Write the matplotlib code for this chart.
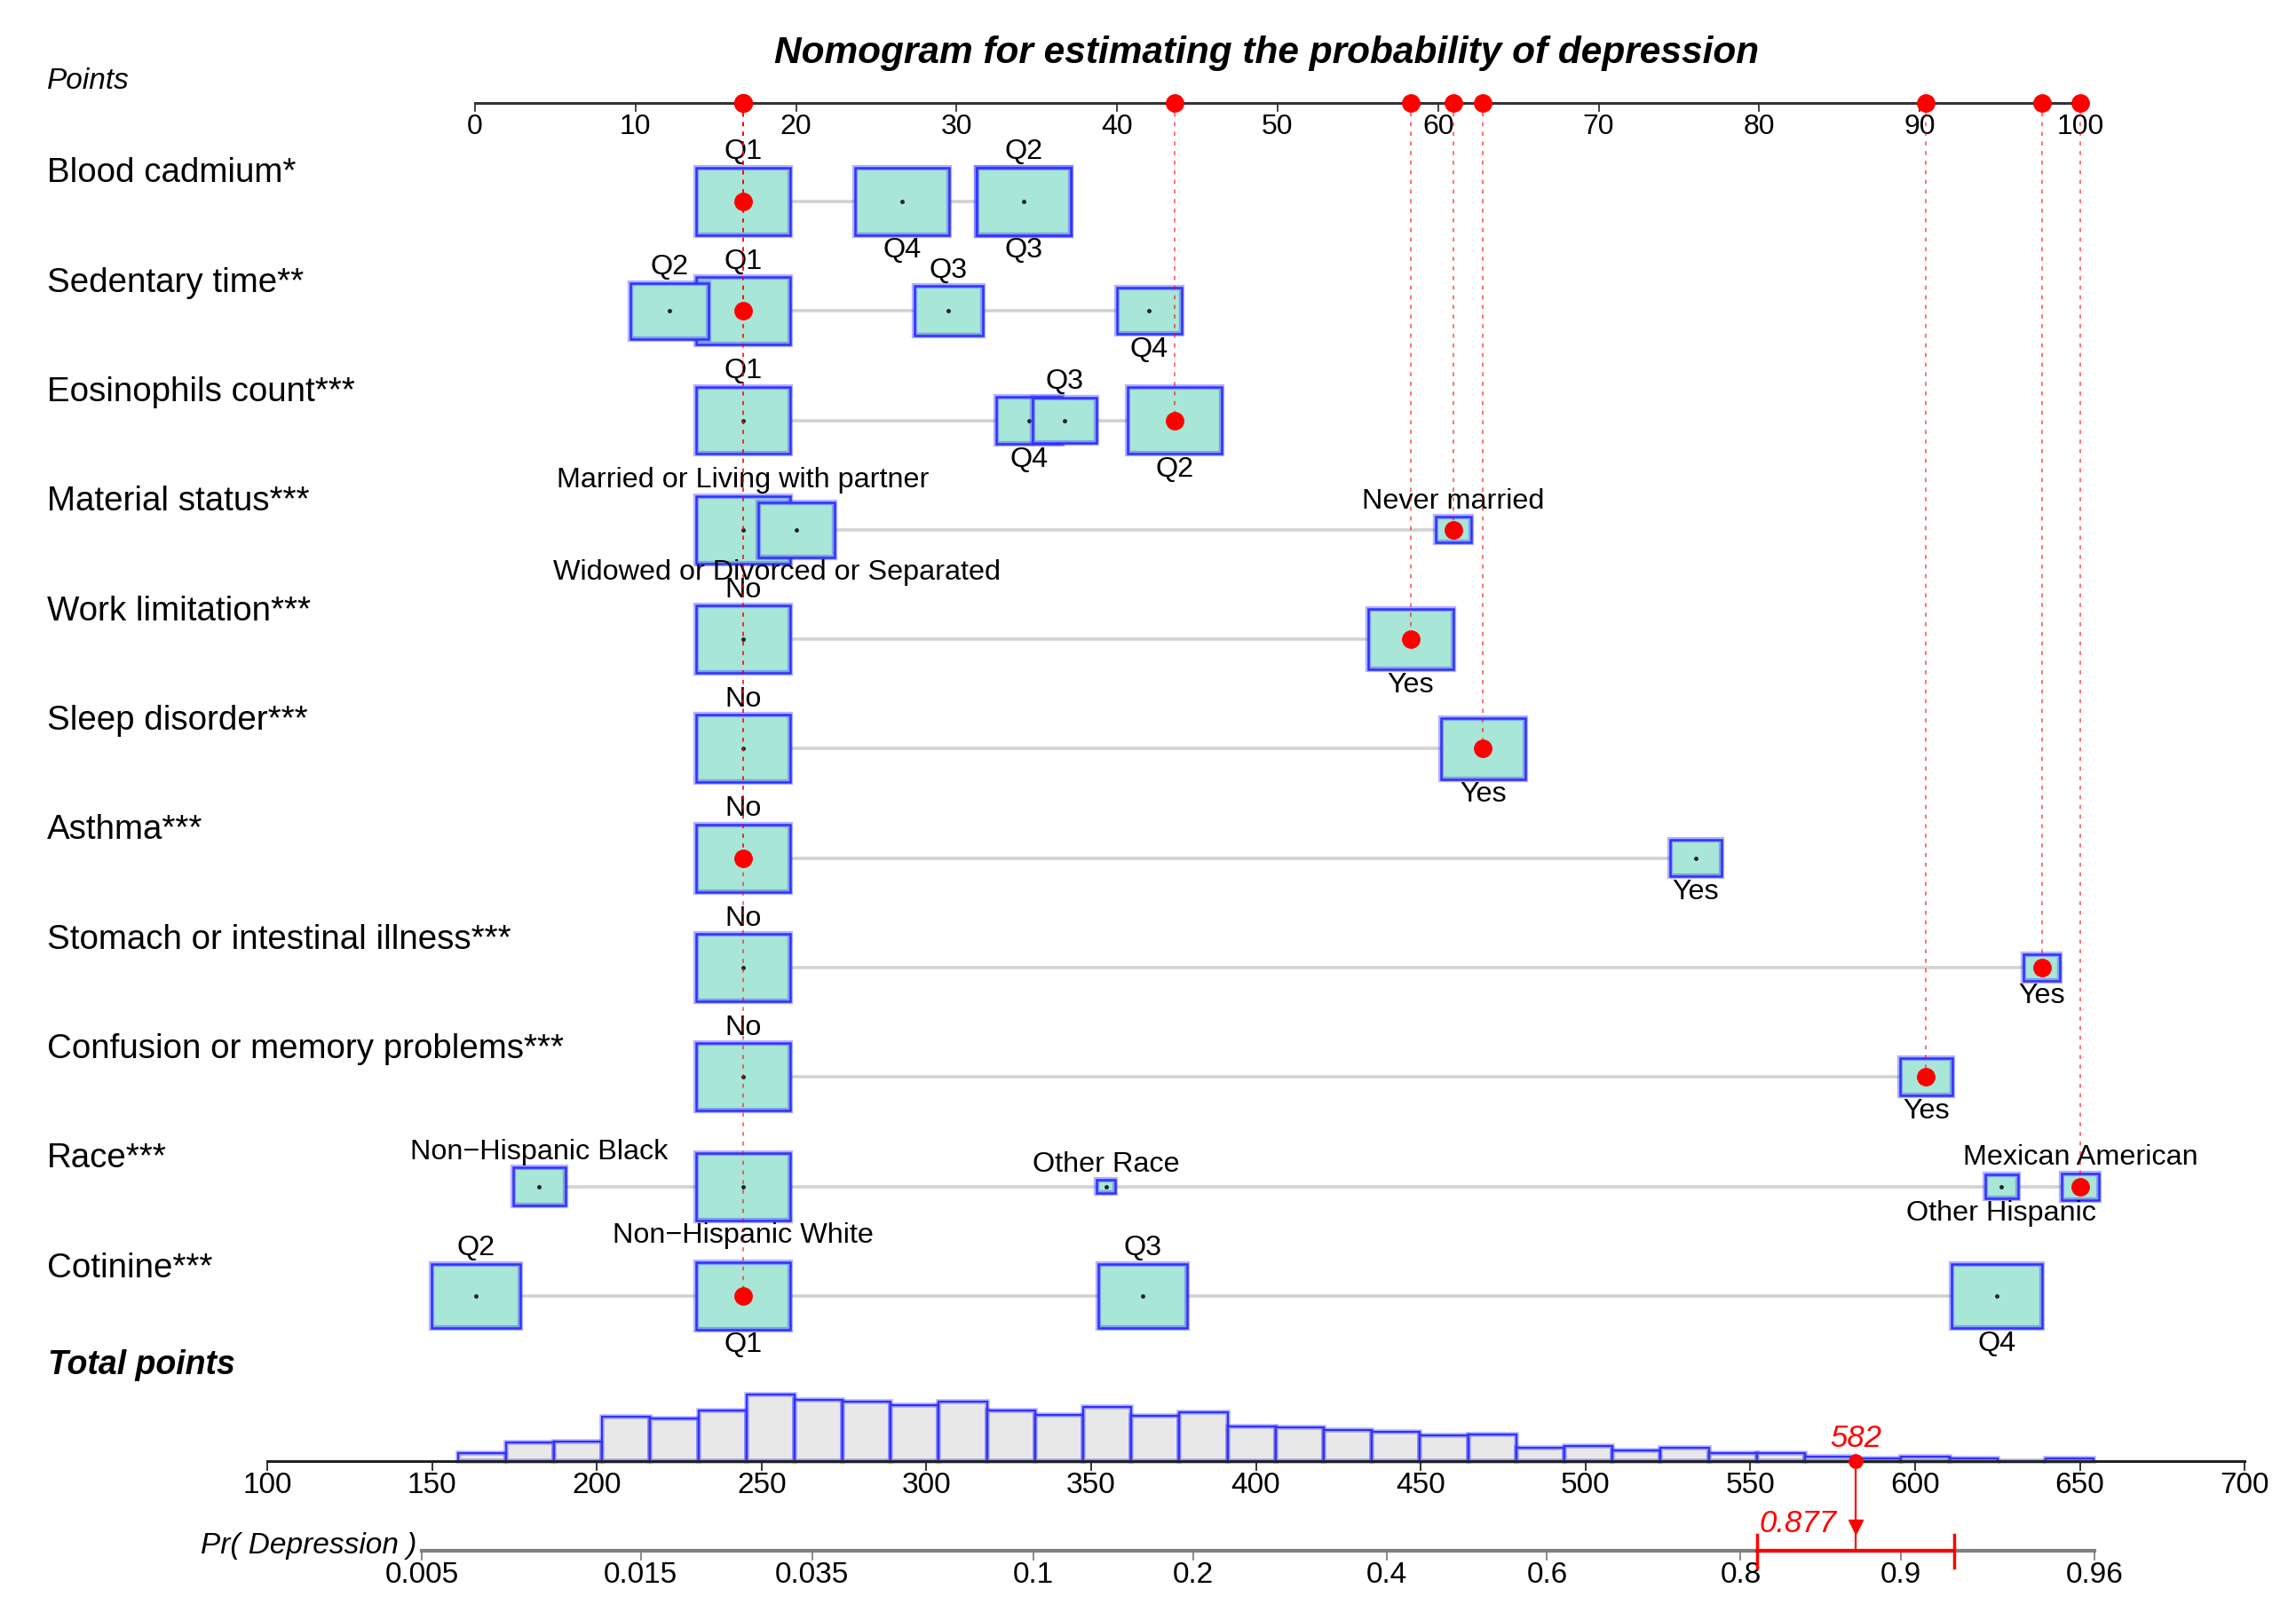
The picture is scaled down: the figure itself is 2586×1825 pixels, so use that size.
import numpy as np
import matplotlib.pyplot as plt
from matplotlib.patches import Rectangle

plt.rcParams['font.family'] = ['Liberation Sans', 'DejaVu Sans']

# ---------------- data ----------------
row_names = ['Blood cadmium*', 'Sedentary time**', 'Eosinophils count***',
             'Material status***', 'Work limitation***', 'Sleep disorder***',
             'Asthma***', 'Stomach or intestinal illness***',
             'Confusion or memory problems***', 'Race***', 'Cotinine***']

# category names / points / relative frequency (box size) for each row
cad_cats = ['Q1', 'Q2', 'Q3', 'Q4']
cad_pts = [16.7, 34.2, 34.2, 26.6]
cad_freq = [1.0, 1.0, 1.0, 1.0]

sed_cats = ['Q1', 'Q2', 'Q3', 'Q4']
sed_pts = [16.7, 12.1, 29.5, 42.0]
sed_freq = [1.0, 0.83, 0.73, 0.69]

eos_cats = ['Q1', 'Q2', 'Q3', 'Q4']
eos_pts = [16.7, 43.6, 36.7, 34.5]
eos_freq = [1.0, 1.0, 0.68, 0.70]

mar_cats = ['Married or Living with partner', 'Widowed or Divorced or Separated', 'Never married']
mar_pts = [16.7, 20.0, 60.95]
mar_freq = [1.0, 0.81, 0.38]

work_cats = ['No', 'Yes']
work_pts = [16.7, 58.3]
work_freq = [1.0, 0.90]

sleep_cats = ['No', 'Yes']
sleep_pts = [16.7, 62.8]
sleep_freq = [1.0, 0.90]

asth_cats = ['No', 'Yes']
asth_pts = [16.7, 76.05]
asth_freq = [1.0, 0.54]

stom_cats = ['No', 'Yes']
stom_pts = [16.7, 97.6]
stom_freq = [1.0, 0.39]

conf_cats = ['No', 'Yes']
conf_pts = [16.7, 90.4]
conf_freq = [1.0, 0.55]

race_cats = ['Non\u2212Hispanic Black', 'Non\u2212Hispanic White', 'Other Race',
             'Other Hispanic', 'Mexican American']
race_pts = [4.0, 16.7, 39.3, 95.1, 100.0]
race_freq = [0.56, 1.0, 0.20, 0.35, 0.40]

cot_cats = ['Q2', 'Q1', 'Q3', 'Q4']
cot_pts = [0.05, 16.7, 41.6, 94.8]
cot_freq = [0.95, 1.0, 0.95, 0.96]

# the patient's value in each row (red dots)
selected = ['Q1', 'Q1', 'Q2', 'Never married', 'Yes', 'Yes', 'No', 'Yes', 'Yes',
            'Mexican American', 'Q1']

# which side of the box each category label sits (layout only)
cad_side = ['up', 'up', 'down', 'down']
sed_side = ['up', 'up', 'up', 'down']
eos_side = ['up', 'down', 'up', 'down']
mar_side = ['up', 'down', 'up']
yn_side = ['up', 'down']
race_side = ['up', 'down', 'up', 'down', 'up']
cot_side = ['up', 'down', 'up', 'down']
label_nudge = {'Widowed or Divorced or Separated': -1.2}

# total points histogram
hist_edges = [157.8, 172.4, 187.0, 201.6, 216.2, 230.8, 245.4, 260.0, 274.6, 289.2,
              303.8, 318.4, 333.0, 347.6, 362.2, 376.8, 391.4, 406.0, 420.6, 435.2,
              449.8, 464.4, 479.0, 493.6, 508.2, 522.8, 537.4, 552.0, 566.6, 581.2,
              595.8, 610.4, 625.0, 639.6, 654.2]
hist_counts = [22, 52, 55, 125, 120, 142, 185, 170, 165, 155, 165, 140, 130, 150, 127,
               135, 97, 95, 88, 82, 73, 74, 37, 42, 29, 37, 22, 22, 14, 8, 14, 7, 0, 7]

total_ticks = [100, 150, 200, 250, 300, 350, 400, 450, 500, 550, 600, 650, 700]
prob_ticks = [0.005, 0.015, 0.035, 0.1, 0.2, 0.4, 0.6, 0.8, 0.9, 0.96]
prob_labels = ['0.005', '0.015', '0.035', '0.1', '0.2', '0.4', '0.6', '0.8', '0.9', '0.96']

# logistic model: logit(p) = a + b * total points
lp_a = -7.747
lp_b = 0.016695
patient_total = 582
patient_prob = 0.877
patient_ci = (0.813, 0.922)

rows = [(cad_cats, cad_pts, cad_freq, cad_side),
        (sed_cats, sed_pts, sed_freq, sed_side),
        (eos_cats, eos_pts, eos_freq, eos_side),
        (mar_cats, mar_pts, mar_freq, mar_side),
        (work_cats, work_pts, work_freq, yn_side),
        (sleep_cats, sleep_pts, sleep_freq, yn_side),
        (asth_cats, asth_pts, asth_freq, yn_side),
        (stom_cats, stom_pts, stom_freq, yn_side),
        (conf_cats, conf_pts, conf_freq, yn_side),
        (race_cats, race_pts, race_freq, race_side),
        (cot_cats, cot_pts, cot_freq, cot_side)]

def prob_to_total(p):
    p = np.asarray(p, dtype=float)
    return (np.log(p / (1 - p)) - lp_a) / lp_b

# ---------------- figure ----------------
BOX_FILL = '#a8e6d7'
BOX_EDGE = '#3030ff'
SOFT_EDGE = (0.25, 0.25, 1.0, 0.4)
MAX_W = 5.86          # box width (points units) for the most frequent category
H_PER_W = 0.1051      # box height (row units) per point of box width
AXIS_Y = -0.9

fig = plt.figure(figsize=(25.86, 18.25), dpi=100)
ax = fig.add_axes([0, 0, 1, 1])
ax.set_xlim(-29.59, 113.44)
ax.set_ylim(12.96, -1.84)
ax.axis('off')

ax2 = fig.add_axes([0, 0, 1, 1], sharey=ax)
ax2.set_xlim(18.9, 715.6)
ax2.patch.set_alpha(0)
ax2.axis('off')

ax.text(49.3, -1.354, 'Nomogram for estimating the probability of depression',
        ha='center', va='center', fontsize=30.5, fontweight='bold', style='italic')
ax.text(-26.66, -1.10, 'Points', ha='left', va='center', fontsize=24, style='italic')

# points scale
ax.plot([0, 100], [AXIS_Y, AXIS_Y], color='#333333', lw=2.2)
for t in range(0, 101, 10):
    ax.plot([t, t], [AXIS_Y, AXIS_Y + 0.075], color='#333333', lw=1.3)
    ax.text(t, -0.68, str(t), ha='center', va='center', fontsize=23)

sel_pts = []
for i, (cats, pts, freq, side) in enumerate(rows):
    ax.text(-26.66, i - 0.255, row_names[i], ha='left', va='center', fontsize=27.7)
    ax.plot([min(pts), max(pts)], [i, i], color='#d2d2d2', lw=2.6, zorder=1,
            solid_capstyle='butt')
    order = sorted(range(len(cats)), key=lambda k: -freq[k])
    for z, k in enumerate(order):
        w = freq[k] * MAX_W
        h = w * H_PER_W
        zz = 2 + z * 0.1
        ax.add_patch(Rectangle((pts[k] - w / 2, i - h / 2), w, h, facecolor=BOX_FILL,
                               edgecolor=SOFT_EDGE, lw=4.5, zorder=zz))
        ax.add_patch(Rectangle((pts[k] - w / 2, i - h / 2), w, h, facecolor='none',
                               edgecolor=BOX_EDGE, lw=1.8, zorder=zz + 0.01))
        ax.plot(pts[k], i, 'o', color='#222222', ms=2.5, zorder=zz + 0.02)
        lx = pts[k] + label_nudge.get(cats[k], 0)
        if side[k] == 'up':
            ax.text(lx, i - h / 2 - 0.02, cats[k], ha='center', va='bottom', fontsize=23.3)
        else:
            ax.text(lx, i + h / 2 + 0.02, cats[k], ha='center', va='top', fontsize=23.3)
    s = cats.index(selected[i])
    sel_pts.append(pts[s])
    ax.plot(pts[s], i, 'o', color='red', ms=14, zorder=6)
    ax.plot([pts[s], pts[s]], [AXIS_Y, i], color='red', alpha=0.6, lw=1.3,
            ls=(0, (2.5, 3.5)), zorder=5)

ax.plot(sel_pts, [AXIS_Y] * len(sel_pts), 'o', color='red', ms=14, zorder=6)

# total points
ax.text(-26.6, 10.63, 'Total points', ha='left', va='center', fontsize=27,
        fontweight='bold', style='italic')
TP_Y = 11.51
PR_Y = 12.33
hist_scale = 0.608 / max(hist_counts)
widths = np.diff(hist_edges)
bar_h = -np.array(hist_counts) * hist_scale
ax2.bar(hist_edges[:-1], bar_h, width=widths, bottom=TP_Y, align='edge',
        color='#e8e8e8', edgecolor=SOFT_EDGE, lw=4, zorder=2)
ax2.bar(hist_edges[:-1], bar_h, width=widths, bottom=TP_Y, align='edge',
        color='none', edgecolor=BOX_EDGE, lw=1.6, zorder=2.1)
ax2.plot([total_ticks[0], total_ticks[-1]], [TP_Y, TP_Y], color='#222222', lw=2.2, zorder=3)
for t in total_ticks:
    ax2.plot([t, t], [TP_Y, TP_Y + 0.08], color='#222222', lw=1.3)
    ax2.text(t, 11.73, str(t), ha='center', va='center', fontsize=24)

# probability scale
pr_x = prob_to_total(prob_ticks)
ax2.plot([pr_x[0], pr_x[-1]], [PR_Y, PR_Y], color='#808080', lw=3)
for x, lab in zip(pr_x, prob_labels):
    ax2.plot([x, x], [PR_Y, PR_Y + 0.08], color='#808080', lw=1.3)
    ax2.text(x, 12.55, lab, ha='center', va='center', fontsize=24)
ax2.text(145.3, 12.28, 'Pr( Depression )', ha='right', va='center', fontsize=24,
         style='italic')

# patient result
ax2.plot(patient_total, TP_Y, 'o', color='red', ms=11, zorder=5)
ax2.plot([patient_total, patient_total], [TP_Y, PR_Y], color='red', lw=1.6, zorder=5)
ax2.plot(patient_total, 12.11, 'v', color='red', ms=12, zorder=5)
ci_x = prob_to_total(patient_ci)
ax2.plot(ci_x, [PR_Y, PR_Y], color='red', lw=3, zorder=5)
for x in ci_x:
    ax2.plot([x, x], [PR_Y - 0.15, PR_Y + 0.15], color='red', lw=2.5, zorder=5)
ax2.text(patient_total, 11.30, str(patient_total), ha='center', va='center',
         fontsize=25, color='red', style='italic')
ax2.text(576.3, 12.08, str(patient_prob), ha='right', va='center', fontsize=25,
         color='red', style='italic')

fig.savefig('out.png', dpi=100, facecolor='white')
